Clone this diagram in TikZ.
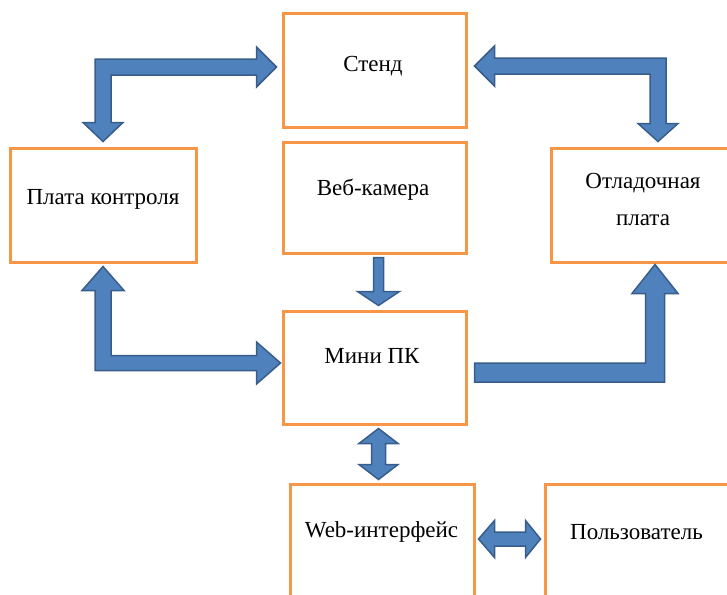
\documentclass[tikz,border=0pt]{standalone}
\usepackage{fontspec}
\setmainfont{Liberation Serif}
\usetikzlibrary{calc}
\definecolor{boxorange}{HTML}{F79646}
\definecolor{arrowfill}{HTML}{4F81BD}
\definecolor{arrowline}{HTML}{385D8A}
\tikzset{
  box/.style={draw=boxorange, line width=3pt, fill=white, inner sep=0pt},
  lbl/.style={font=\fontsize{23}{37}\selectfont, inner sep=0pt, text=black},
  blockarrow/.style={fill=arrowfill, draw=arrowline, line width=1.5pt, line join=miter}
}
\begin{document}
\begin{tikzpicture}[x=1pt,y=-1pt]
\useasboundingbox (0,0) rectangle (727,594);
\clip (0,0) rectangle (727,594);
% boxes
\node[box, minimum width=183pt, minimum height=113pt] (stend) at (374.5,70.5) {};
\node[box, minimum width=183pt, minimum height=111pt] (cam) at (374.5,197.5) {};
\node[box, minimum width=186pt, minimum height=114pt] (ctrl) at (103,205) {};
\node[box, minimum width=186pt, minimum height=114pt] (dbg) at (644,205) {};
\node[box, minimum width=183pt, minimum height=113pt] (mini) at (374.5,367.5) {};
\node[box, minimum width=184pt, minimum height=114pt] (web) at (382,541) {};
\node[box, minimum width=186pt, minimum height=114pt] (user) at (638,541) {};
% labels
\node[lbl, anchor=base] (tstend) at ($(stend.center)+(-1.5,1.2)$) {Стенд};
\node[lbl, anchor=base] (tctrl) at ($(ctrl.center)+(0,-1)$) {Плата контроля};
\node[lbl, anchor=center, align=center] (tdbg) at ($(dbg.center)+(-1,-6)$) {Отладочная\\плата};
\node[lbl, anchor=base] (tcam) at ($(cam.center)+(-1.5,-2.5)$) {Веб-камера};
\node[lbl, anchor=base] (tmini) at ($(mini.center)+(-2.5,-4.5)$) {Мини ПК};
\node[lbl, anchor=base] (tweb) at ($(web.center)+(-0.5,-4)$) {Web-интерфейс};
\node[lbl, anchor=base] (tuser) at ($(user.center)+(-1.5,-2)$) {Пользователь};
% arrow A: Плата контроля <-> Стенд
\coordinate (aR) at ($(stend.west)+(-5,-3.5)$);
\coordinate (aD) at ($(ctrl.north)+(0,-5)$);
\coordinate (aC) at (aD |- aR);
\draw[blockarrow] (aR) -- ($(aR)+(-20,-20)$) -- ($(aR)+(-20,-8)$) -- ($(aC)+(-8,-8)$)
  -- ($(aD)+(-8,-19)$) -- ($(aD)+(-20,-19)$) -- (aD) -- ($(aD)+(20,-19)$) -- ($(aD)+(8,-19)$)
  -- ($(aC)+(8,8)$) -- ($(aR)+(-20,8)$) -- ($(aR)+(-20,20)$) -- cycle;
% arrow B: Стенд <-> Отладочная плата
\coordinate (bL) at ($(stend.east)+(7,-4.5)$);
\coordinate (bD) at ($(dbg.north)+(14,-5)$);
\coordinate (bC) at (bD |- bL);
\draw[blockarrow] (bL) -- ($(bL)+(20,-20)$) -- ($(bL)+(20,-8)$) -- ($(bC)+(8,-8)$)
  -- ($(bD)+(8,-18)$) -- ($(bD)+(20,-18)$) -- (bD) -- ($(bD)+(-20,-18)$) -- ($(bD)+(-8,-18)$)
  -- ($(bC)+(-8,8)$) -- ($(bL)+(20,8)$) -- ($(bL)+(20,20)$) -- cycle;
% arrow C: Плата контроля <-> Мини ПК
\coordinate (cU) at ($(ctrl.south)+(0,3)$);
\coordinate (cR) at ($(mini.west)+(-1,-4.5)$);
\coordinate (cC) at (cU |- cR);
\draw[blockarrow] (cU) -- ($(cU)+(21,24)$) -- ($(cU)+(8,24)$) -- ($(cC)+(8,-7.5)$)
  -- ($(cR)+(-24,-7.5)$) -- ($(cR)+(-24,-21)$) -- (cR) -- ($(cR)+(-24,21)$) -- ($(cR)+(-24,7.5)$)
  -- ($(cC)+(-8,7.5)$) -- ($(cU)+(-8,24)$) -- ($(cU)+(-21,24)$) -- cycle;
% arrow D: Мини ПК -> Отладочная плата
\coordinate (dS) at ($(mini.east)+(7,5)$);
\coordinate (dU) at ($(dbg.south)+(11,1)$);
\coordinate (dC) at (dU |- dS);
\draw[blockarrow] ($(dS)+(0,-9.5)$) -- ($(dC)+(-9.5,-9.5)$) -- ($(dU)+(-9.5,29)$) -- ($(dU)+(-23,29)$)
  -- (dU) -- ($(dU)+(23,29)$) -- ($(dU)+(9.5,29)$) -- ($(dC)+(9.5,9.5)$) -- ($(dS)+(0,9.5)$) -- cycle;
% arrow E: Веб-камера -> Мини ПК
\coordinate (eT) at ($(cam.south)+(4,3)$);
\coordinate (eB) at ($(mini.north)+(4,-4)$);
\draw[blockarrow] ($(eT)+(-5,0)$) -- ($(eB)+(-5,-14)$) -- ($(eB)+(-21,-14)$) -- (eB)
  -- ($(eB)+(21,-14)$) -- ($(eB)+(5,-14)$) -- ($(eT)+(5,0)$) -- cycle;
% arrow F: Мини ПК <-> Web-интерфейс
\coordinate (fT) at ($(mini.south)+(4,3)$);
\coordinate (fB) at ($(web.north)+(-3.5,-3)$);
\draw[blockarrow] (fT) -- ($(fT)+(19.5,15)$) -- ($(fT)+(7,15)$) -- ($(fB)+(7,-15)$) -- ($(fB)+(19.5,-15)$)
  -- (fB) -- ($(fB)+(-19.5,-15)$) -- ($(fB)+(-7,-15)$) -- ($(fT)+(-7,15)$) -- ($(fT)+(-19.5,15)$) -- cycle;
% arrow G: Web-интерфейс <-> Пользователь
\coordinate (gL) at ($(web.east)+(3,-2)$);
\coordinate (gR) at ($(user.west)+(-3,-2)$);
\draw[blockarrow] (gL) -- ($(gL)+(16,-18.5)$) -- ($(gL)+(16,-7)$) -- ($(gR)+(-15,-7)$) -- ($(gR)+(-15,-18.5)$)
  -- (gR) -- ($(gR)+(-15,18.5)$) -- ($(gR)+(-15,7)$) -- ($(gL)+(16,7)$) -- ($(gL)+(16,18.5)$) -- cycle;
\end{tikzpicture}
\end{document}
